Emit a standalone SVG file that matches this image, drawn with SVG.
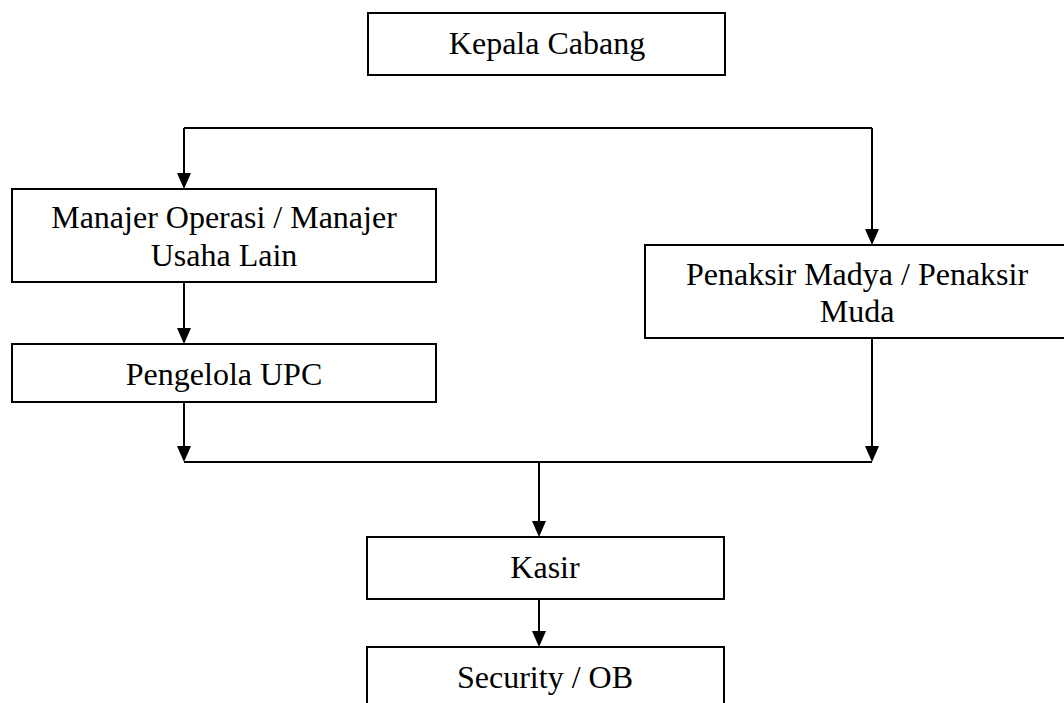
<svg xmlns="http://www.w3.org/2000/svg" width="1064" height="703" viewBox="0 0 1064 703">
<style>
.box{fill:#fff;stroke:#000;stroke-width:2}
.lbl{font-family:'Liberation Serif', 'DejaVu Serif', serif;font-size:32px;fill:#000;text-anchor:middle}
.ln{fill:none;stroke:#000;stroke-width:2}
.ah{fill:#000}
</style>
<rect width="1064" height="703" fill="#fff"/>
<g id="connectors">
<path class="ln" d="M184,128 H872"/>
<path class="ln" d="M184,128 V173"/>
<path class="ah" d="M177,173 L191,173 L184,189 Z"/>
<path class="ln" d="M872,128 V229"/>
<path class="ah" d="M865,229 L879,229 L872,245 Z"/>
<path class="ln" d="M184,283 V328"/>
<path class="ah" d="M177,328 L191,328 L184,344 Z"/>
<path class="ln" d="M184,402 V447"/>
<path class="ah" d="M177,446 L191,446 L184,462 Z"/>
<path class="ln" d="M872,338 V447"/>
<path class="ah" d="M865,446 L879,446 L872,462 Z"/>
<path class="ln" d="M184,462 H872"/>
<path class="ln" d="M539,462 V521"/>
<path class="ah" d="M532,521 L546,521 L539,537 Z"/>
<path class="ln" d="M539,599 V631"/>
<path class="ah" d="M532,631 L546,631 L539,647 Z"/>
</g>
<g id="kepala">
<rect class="box" x="368" y="13" width="357" height="62"/>
<text class="lbl" x="547" y="54">Kepala Cabang</text>
</g>
<g id="manajer">
<rect class="box" x="12" y="189" width="424" height="93"/>
<text class="lbl" x="224" y="228">Manajer Operasi / Manajer</text>
<text class="lbl" x="224" y="266">Usaha Lain</text>
</g>
<g id="pengelola">
<rect class="box" x="12" y="344" width="424" height="58"/>
<text class="lbl" x="224" y="385">Pengelola UPC</text>
</g>
<g id="penaksir">
<rect class="box" x="645" y="245" width="425" height="93"/>
<text class="lbl" x="857" y="285">Penaksir Madya / Penaksir</text>
<text class="lbl" x="857" y="322">Muda</text>
</g>
<g id="kasir">
<rect class="box" x="367" y="537" width="357" height="62"/>
<text class="lbl" x="545" y="578">Kasir</text>
</g>
<g id="security">
<rect class="box" x="367" y="647" width="357" height="80"/>
<text class="lbl" x="545" y="688">Security / OB</text>
</g>
</svg>
